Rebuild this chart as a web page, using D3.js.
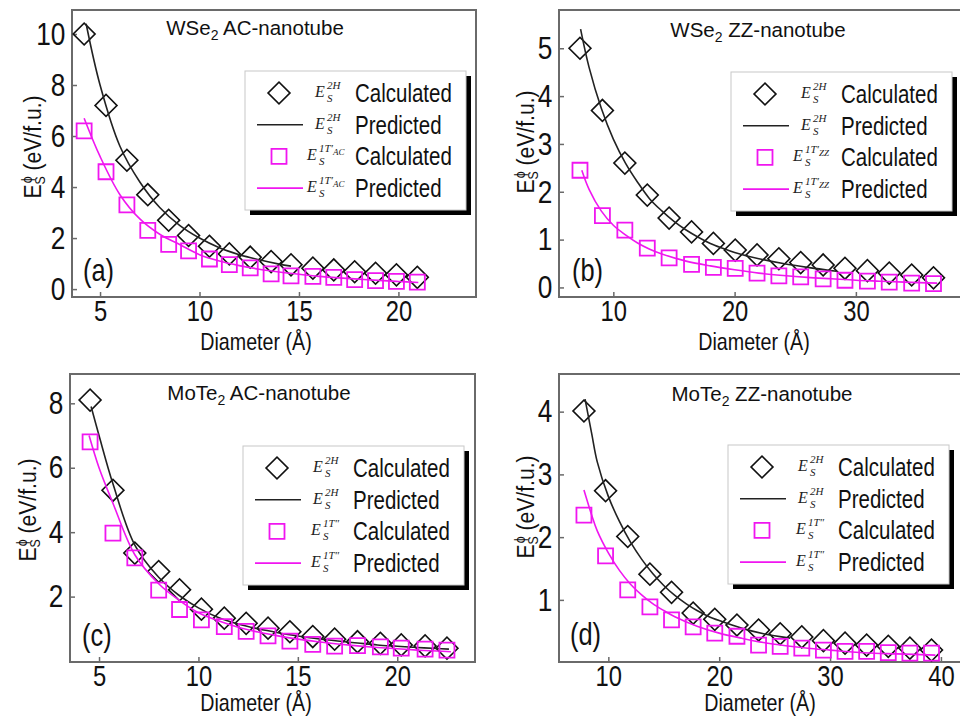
<!DOCTYPE html>
<html>
<head>
<meta charset="utf-8">
<script src="https://cdn.jsdelivr.net/npm/d3@7"></script>
<style>
  body { margin: 0; background: #fff; }
  svg { display: block; }
  .sans { font-family: "Liberation Sans", Arial, sans-serif; }
  .math { font-family: "Liberation Serif", "DejaVu Serif", serif; font-style: italic; }
</style>
</head>
<body>
<svg id="chart" width="960" height="718"></svg>
<script>
// panel (a) WSe2 AC
const aDiameter = [4.2, 5.3, 6.35, 7.4, 8.45, 9.45, 10.5, 11.5, 12.55, 13.6, 14.6, 15.7, 16.75, 17.8, 18.85, 19.9, 20.95];
const a2H = [10.0, 7.2, 5.05, 3.7, 2.7, 2.1, 1.68, 1.38, 1.25, 1.08, 0.95, 0.82, 0.75, 0.68, 0.62, 0.56, 0.46];
const a1T = [6.2, 4.6, 3.3, 2.3, 1.75, 1.5, 1.18, 0.96, 0.83, 0.6, 0.52, 0.5, 0.46, 0.37, 0.33, 0.3, 0.27];
const aFit2Hx = [4.3, 5, 6, 7, 8, 9, 10, 11, 12, 13, 14, 14.6];
const aFit2Hy = [10.4, 8.0, 5.6, 4.2, 3.2, 2.5, 2.0, 1.62, 1.35, 1.15, 0.98, 0.9];
const aFit1Tx = [4.2, 5, 6, 7, 8, 9, 10, 11, 12, 13, 14, 15, 16, 17, 18, 19, 20, 21];
const aFit1Ty = [6.7, 5.2, 3.7, 2.75, 2.15, 1.75, 1.35, 1.1, 0.92, 0.78, 0.67, 0.58, 0.5, 0.44, 0.39, 0.34, 0.3, 0.26];
const aXTicks = [5, 10, 15, 20];
const aYTicks = [0, 2, 4, 6, 8, 10];

// panel (b) WSe2 ZZ
const bDiameter = [7.25, 9.1, 10.95, 12.8, 14.6, 16.45, 18.25, 20.05, 21.85, 23.65, 25.45, 27.3, 29.1, 30.95, 32.75, 34.6, 36.4];
const b2H = [5.0, 3.7, 2.6, 1.93, 1.45, 1.16, 0.92, 0.78, 0.68, 0.6, 0.52, 0.47, 0.4, 0.35, 0.3, 0.26, 0.2];
const b1T = [2.45, 1.5, 1.2, 0.82, 0.62, 0.48, 0.42, 0.4, 0.3, 0.24, 0.22, 0.18, 0.15, 0.13, 0.11, 0.09, 0.08];
const bFit2Hx = [7.3, 8, 9, 10, 11, 12, 13, 14, 15, 16, 17, 18, 19, 20, 22, 24, 26, 28.4];
const bFit2Hy = [5.4, 4.6, 3.75, 3.1, 2.6, 2.2, 1.85, 1.6, 1.38, 1.2, 1.05, 0.92, 0.82, 0.73, 0.6, 0.5, 0.42, 0.34];
const bFit1Tx = [7.4, 8, 9, 10, 11, 12, 13, 14, 16, 18, 20, 22, 24, 26, 28, 30, 32, 34, 36.7];
const bFit1Ty = [2.45, 2.05, 1.6, 1.3, 1.1, 0.93, 0.8, 0.7, 0.55, 0.45, 0.37, 0.3, 0.25, 0.21, 0.18, 0.15, 0.13, 0.11, 0.09];
const bXTicks = [10, 20, 30];
const bYTicks = [0, 1, 2, 3, 4, 5];

// panel (c) MoTe2 AC
const cDiameter = [4.55, 5.7, 6.8, 8.0, 9.05, 10.15, 11.3, 12.4, 13.5, 14.6, 15.75, 16.85, 18.0, 19.15, 20.2, 21.4, 22.5];
const c2H = [8.1, 5.3, 3.35, 2.78, 2.21, 1.61, 1.33, 1.17, 1.02, 0.91, 0.76, 0.68, 0.6, 0.55, 0.5, 0.47, 0.4];
const c1T = [6.8, 3.97, 3.2, 2.2, 1.6, 1.28, 1.07, 0.92, 0.78, 0.62, 0.52, 0.46, 0.48, 0.44, 0.4, 0.37, 0.34];
const cFit2Hx = [4.6, 5, 5.7, 6.8, 8, 9, 10, 11, 12, 13, 14, 15, 16, 17, 18, 19, 20, 21, 22, 22.6];
const cFit2Hy = [7.9, 7.0, 5.5, 3.6, 2.6, 2.05, 1.65, 1.35, 1.15, 1.0, 0.88, 0.78, 0.69, 0.62, 0.56, 0.5, 0.46, 0.42, 0.39, 0.37];
const cFit1Tx = [4.5, 5, 5.7, 6.8, 8, 9, 10, 11, 12, 13, 14, 15, 16, 17, 18, 19, 20, 21, 22, 22.7];
const cFit1Ty = [7.0, 6.0, 4.9, 3.3, 2.4, 1.9, 1.5, 1.25, 1.05, 0.9, 0.78, 0.68, 0.6, 0.53, 0.47, 0.42, 0.38, 0.34, 0.31, 0.29];
const cXTicks = [5, 10, 15, 20];
const cYTicks = [2, 4, 6, 8];

// panel (d) MoTe2 ZZ
const dDiameter = [7.8, 9.75, 11.75, 13.75, 15.7, 17.65, 19.6, 21.6, 23.55, 25.5, 27.45, 29.4, 31.35, 33.3, 35.25, 37.2, 39.15];
const d2H = [4.01, 2.74, 2.01, 1.41, 1.12, 0.79, 0.69, 0.6, 0.52, 0.46, 0.41, 0.35, 0.31, 0.28, 0.26, 0.23, 0.2];
const d1T = [2.35, 1.7, 1.16, 0.89, 0.68, 0.57, 0.47, 0.42, 0.28, 0.26, 0.23, 0.2, 0.18, 0.18, 0.16, 0.15, 0.15];
const dFit2Hx = [7.9, 8.5, 9, 10, 11, 12, 13, 14, 15, 16, 17, 18, 19, 20, 22, 24, 26.4];
const dFit2Hy = [4.2, 3.65, 3.2, 2.65, 2.25, 1.92, 1.65, 1.42, 1.23, 1.07, 0.94, 0.83, 0.74, 0.67, 0.55, 0.46, 0.39];
const dFit1Tx = [7.8, 8.5, 9, 10, 11, 12, 13, 14, 15, 16, 18, 20, 22, 24, 26, 28, 30, 32, 34, 36, 39.5];
const dFit1Ty = [2.75, 2.35, 2.1, 1.75, 1.47, 1.25, 1.08, 0.94, 0.83, 0.73, 0.58, 0.47, 0.39, 0.32, 0.27, 0.23, 0.2, 0.17, 0.15, 0.14, 0.12];
const dXTicks = [10, 20, 30, 40];
const dYTicks = [1, 2, 3, 4];

const titles = [["WSe", "2", " AC-nanotube"], ["WSe", "2", " ZZ-nanotube"], ["MoTe", "2", " AC-nanotube"], ["MoTe", "2", " ZZ-nanotube"]];
const panelTags = ["(a)", "(b)", "(c)", "(d)"];
// legend phase superscripts: [main, subscript on T]
const phaseLabels = [["1T′", "AC"], ["1T′", "ZZ"], ["1T″", ""], ["1T″", ""]];
const legendWords = ["Calculated", "Predicted", "Calculated", "Predicted"];

const MAGENTA = "#f016f0";
const FRAME = "#6a6a6a";
const NARROW = 0.82; // the figure uses a condensed sans, squeeze Liberation Sans

const zip = (xs, ys) => xs.map((x, i) => ({ x: x, y: ys[i] }));

const panels = [
  { left: 72, top: 10, right: 476, bottom: 297, xd: [3.59, 23.9], yd: [-0.31, 10.94],
    xt: aXTicks, yt: aYTicks, calc2H: zip(aDiameter, a2H), calc1T: zip(aDiameter, a1T),
    fit2H: zip(aFit2Hx, aFit2Hy), fit1T: zip(aFit1Tx, aFit1Ty),
    titleX: 255, titleY: 35, tagX: 83, tagY: 281, legX: 245, legY: 71,
    ylabX: 41, ylabY: 147, xlabX: 256, xlabY: 350 },
  { left: 559, top: 10, right: 962, bottom: 297, xd: [5.52, 38.75], yd: [-0.2, 5.8],
    xt: bXTicks, yt: bYTicks, calc2H: zip(bDiameter, b2H), calc1T: zip(bDiameter, b1T),
    fit2H: zip(bFit2Hx, bFit2Hy), fit1T: zip(bFit1Tx, bFit1Ty),
    titleX: 758, titleY: 37, tagX: 572, tagY: 281, legX: 731, legY: 72,
    ylabX: 534, ylabY: 142, xlabX: 754, xlabY: 350 },
  { left: 70, top: 374, right: 475, bottom: 662, xd: [3.54, 23.91], yd: [-0.03, 8.91],
    xt: cXTicks, yt: cYTicks, calc2H: zip(cDiameter, c2H), calc1T: zip(cDiameter, c1T),
    fit2H: zip(cFit2Hx, cFit2Hy), fit1T: zip(cFit1Tx, cFit1Ty),
    titleX: 259, titleY: 400, tagX: 82, tagY: 646, legX: 243, legY: 446,
    ylabX: 36, ylabY: 510, xlabX: 256, xlabY: 711 },
  { left: 559, top: 374, right: 962, bottom: 662, xd: [5.55, 41.9], yd: [0.01, 4.6],
    xt: dXTicks, yt: dYTicks, calc2H: zip(dDiameter, d2H), calc1T: zip(dDiameter, d1T),
    fit2H: zip(dFit2Hx, dFit2Hy), fit1T: zip(dFit1Tx, dFit1Ty),
    titleX: 762, titleY: 401, tagX: 570, tagY: 645, legX: 728, legY: 445,
    ylabX: 534, ylabY: 507, xlabX: 760, xlabY: 711 }
];

const svg = d3.select("#chart");
const diamond = d3.symbol(d3.symbolSquare, 240)();
const square = d3.symbol(d3.symbolSquare, 225)();

// text squeezed horizontally, placed at x,y
const narrowText = function(parent, x, y, size, str, anchor) {
  return parent.append("text").attr("class", "sans")
    .attr("transform", `translate(${x},${y}) scale(${NARROW},1)`)
    .attr("text-anchor", anchor || "start")
    .attr("font-size", size).attr("fill", "#111").text(str);
};

// draw the E_S^phase symbol used in the legend
const drawMath = function(g, x, y, sup, supSub) {
  g.append("text").attr("class", "math").attr("x", x).attr("y", y + 4)
    .attr("font-size", 16).attr("fill", "#222").text("E");
  const t = g.append("text").attr("class", "math").attr("x", x + 12).attr("y", y - 4)
    .attr("font-size", 11).attr("fill", "#222").text(sup);
  if (supSub) {
    t.append("tspan").attr("font-size", 9).attr("dy", 3).text(supSub);
  }
  g.append("text").attr("class", "math").attr("x", x + 12).attr("y", y + 9)
    .attr("font-size", 11).attr("fill", "#222").text("S");
};

panels.forEach((p, i) => {
  const g = svg.append("g");
  const x = d3.scaleLinear().domain(p.xd).range([p.left, p.right]);
  const y = d3.scaleLinear().domain(p.yd).range([p.bottom, p.top]);

  // axes with inward ticks
  const ax = g.append("g").attr("transform", `translate(0,${p.bottom})`)
    .call(d3.axisBottom(x).tickValues(p.xt).tickFormat(d3.format("d"))
      .tickSizeInner(-5).tickSizeOuter(0).tickPadding(3));
  ax.select(".domain").remove();
  ax.selectAll("text").attr("class", "sans").attr("font-size", 29).attr("fill", "#111")
    .attr("transform", `scale(${NARROW},1)`);
  ax.selectAll("line").attr("stroke", FRAME).attr("stroke-width", 1.5);

  const ay = g.append("g").attr("transform", `translate(${p.left},0)`)
    .call(d3.axisLeft(y).tickValues(p.yt).tickFormat(d3.format("d"))
      .tickSizeInner(-5).tickSizeOuter(0).tickPadding(8));
  ay.select(".domain").remove();
  ay.selectAll("text").attr("class", "sans").attr("font-size", 32).attr("fill", "#111")
    .attr("transform", `scale(${NARROW},1)`);
  ay.selectAll("line").attr("stroke", FRAME).attr("stroke-width", 1.5);

  g.append("rect").attr("x", p.left).attr("y", p.top)
    .attr("width", p.right - p.left).attr("height", p.bottom - p.top)
    .attr("fill", "none").attr("stroke", FRAME).attr("stroke-width", 2);

  // title
  const tt = g.append("text").attr("class", "sans").attr("x", p.titleX).attr("y", p.titleY)
    .attr("text-anchor", "middle").attr("font-size", 20.5).attr("fill", "#111");
  tt.append("tspan").text(titles[i][0]);
  tt.append("tspan").attr("font-size", 14).attr("dy", 5).text(titles[i][1]);
  tt.append("tspan").attr("dy", -5).text(titles[i][2]);

  // panel tag
  narrowText(g, p.tagX, p.tagY, 31, panelTags[i]);

  // axis labels
  narrowText(g, p.xlabX, p.xlabY, 24, "Diameter (Å)", "middle");

  const yl = g.append("text").attr("class", "sans")
    .attr("transform", `translate(${p.ylabX},${p.ylabY}) rotate(-90) scale(0.88,1)`)
    .attr("text-anchor", "middle").attr("font-size", 24).attr("fill", "#111");
  yl.append("tspan").text("E");
  yl.append("tspan").attr("font-size", 14).attr("dy", 4).text("S");
  yl.append("tspan").attr("font-size", 14).attr("dx", -8).attr("dy", -13).text("ϕ");
  yl.append("tspan").attr("dy", 9).text(" (eV/f.u.)");

  // data
  const line = d3.line().x(d => x(d.x)).y(d => y(d.y)).curve(d3.curveCatmullRom);

  g.selectAll(".dia").data(p.calc2H).join("path")
    .attr("d", diamond)
    .attr("transform", d => `translate(${x(d.x)},${y(d.y)}) rotate(45)`)
    .attr("fill", "none").attr("stroke", "#111").attr("stroke-width", 1.6);
  g.append("path").datum(p.fit2H).attr("d", line)
    .attr("fill", "none").attr("stroke", "#222").attr("stroke-width", 1.6);
  g.selectAll(".sq").data(p.calc1T).join("path")
    .attr("d", square)
    .attr("transform", d => `translate(${x(d.x)},${y(d.y)})`)
    .attr("fill", "none").attr("stroke", MAGENTA).attr("stroke-width", 1.8);
  g.append("path").datum(p.fit1T).attr("d", line)
    .attr("fill", "none").attr("stroke", MAGENTA).attr("stroke-width", 1.6);

  // legend
  const lg = g.append("g");
  const lw = 221, lh = 139;
  lg.append("rect").attr("x", p.legX + 5).attr("y", p.legY + 5).attr("width", lw).attr("height", lh)
    .attr("fill", "#000");
  lg.append("rect").attr("x", p.legX).attr("y", p.legY).attr("width", lw).attr("height", lh)
    .attr("fill", "#fff").attr("stroke", "#c8c8c8").attr("stroke-width", 1);
  legendWords.forEach((word, k) => {
    const cy = p.legY + 22 + k * 31.7;
    const sx = p.legX + 34;
    if (k === 0) {
      lg.append("path").attr("d", diamond).attr("transform", `translate(${sx},${cy}) rotate(45)`)
        .attr("fill", "none").attr("stroke", "#111").attr("stroke-width", 1.6);
    } else if (k === 2) {
      lg.append("path").attr("d", square).attr("transform", `translate(${sx},${cy})`)
        .attr("fill", "none").attr("stroke", MAGENTA).attr("stroke-width", 1.8);
    } else {
      lg.append("line").attr("x1", p.legX + 12).attr("x2", p.legX + 58)
        .attr("y1", cy).attr("y2", cy)
        .attr("stroke", k === 1 ? "#222" : MAGENTA).attr("stroke-width", 1.6);
    }
    const is2H = k < 2;
    const mx = p.legX + (is2H ? 70 : (phaseLabels[i][1] ? 62 : 68));
    drawMath(lg, mx, cy, is2H ? "2H" : phaseLabels[i][0], is2H ? "" : phaseLabels[i][1]);
    narrowText(lg, p.legX + 110, cy + 9, 25, word);
  });
});
</script>
</body>
</html>
